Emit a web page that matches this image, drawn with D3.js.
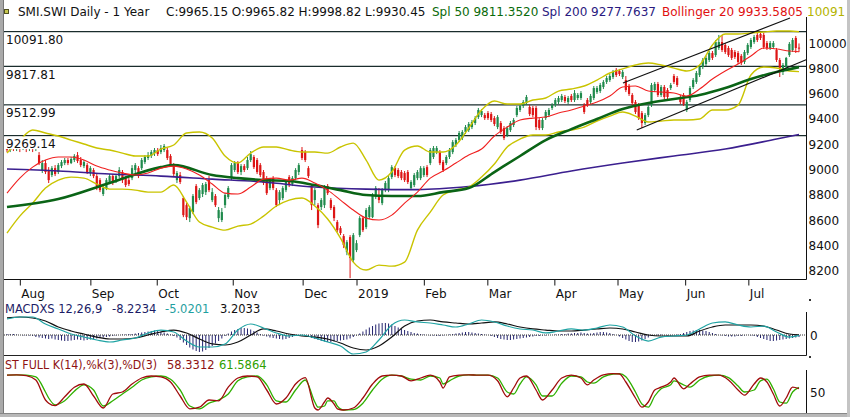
<!DOCTYPE html>
<html><head><meta charset="utf-8">
<script src="https://cdn.jsdelivr.net/npm/d3@7/dist/d3.min.js"></script>
<style>
html,body{margin:0;padding:0;background:#fff;}
svg{display:block;font-family:"DejaVu Sans",sans-serif;}
</style></head><body>
<svg id="c" width="850" height="417"></svg>
<script>
// ---------------- DATA ----------------
const open = [9195,9155,9187,9163,9195,9171,9203,9179,9195,9163,
9115,8997,9052,8997,8957,9012,8981,9028,9052,9076,
9052,9076,9115,9076,9028,9036,8973,8997,8949,8917,
8807,8854,8902,8949,8902,8949,8981,8933,8917,8933,
8997,9012,9012,9060,9092,9108,9131,9155,9139,9155,
9155,9108,9036,8917,8957,8775,8719,8616,8664,8870,
8775,8807,8822,8917,8759,8791,8616,8601,8719,8783,
8933,8997,9052,8981,9028,9012,9076,9100,9076,9036,
8981,8933,8854,8933,8838,8759,8775,8838,8941,8886,
8933,8981,9155,9139,9012,8870,8759,8719,8704,8719,
8870,8759,8704,8585,8537,8474,8347,8466,8284,8363,
8482,8616,8545,8624,8624,8783,8783,8735,8838,8838,
8941,9012,8997,8981,8973,8981,8854,8878,8933,8933,
8957,9020,9052,9100,9139,9139,9060,9052,9100,9139,
9195,9234,9250,9298,9313,9337,9369,9416,9432,9432,
9448,9440,9408,9337,9369,9329,9274,9313,9353,9432,
9472,9504,9527,9496,9488,9488,9393,9329,9408,9432,
9488,9511,9535,9551,9575,9535,9583,9551,9567,9567,
9511,9551,9535,9567,9614,9622,9654,9694,9709,9733,
9789,9781,9733,9709,9662,9591,9535,9511,9448,9369,
9432,9511,9630,9678,9591,9654,9630,9646,9741,9725,
9575,9591,9472,9551,9654,9694,9749,9812,9836,9868,
9923,9907,9963,10010,9987,9963,9947,9931,9923,9900,
9852,9923,9971,10010,10066,10074,10066,10002,9963,9971,
9947,9868,9773,9812,9907,9947,10042,9965.82];
const high = [9218,9210,9203,9210,9218,9226,9226,9218,9218,9203,
9139,9076,9076,9020,9028,9036,9052,9076,9092,9092,
9100,9123,9139,9100,9076,9052,9028,9012,8965,8933,
8870,8933,8965,8965,8965,9020,8997,8949,8933,9036,
9052,9028,9092,9115,9139,9155,9171,9171,9195,9203,
9171,9123,9052,8989,8981,8791,8735,8712,8807,8886,
8854,8894,8902,8949,8854,8807,8704,8696,8814,8870,
9052,9068,9068,9044,9044,9100,9147,9115,9092,9052,
8997,8949,8933,8949,8854,8838,8870,8917,8957,8949,
9012,9052,9179,9155,9028,8886,8854,8735,8775,8878,
8886,8775,8719,8601,8553,8490,8442,8482,8498,8442,
8632,8632,8696,8719,8814,8870,8854,8854,8910,8949,
9036,9028,9012,8997,8989,8997,8917,8973,8997,9028,
9028,9036,9171,9187,9187,9155,9076,9115,9171,9234,
9250,9306,9313,9353,9377,9393,9424,9488,9480,9448,
9464,9456,9424,9432,9385,9345,9345,9385,9408,9504,
9519,9551,9591,9511,9504,9504,9408,9408,9472,9488,
9527,9567,9583,9599,9591,9583,9599,9630,9606,9622,
9527,9567,9599,9662,9662,9686,9709,9741,9757,9789,
9804,9797,9789,9741,9678,9606,9551,9527,9464,9448,
9511,9686,9694,9694,9670,9670,9646,9686,9757,9741,
9591,9606,9551,9662,9725,9781,9828,9884,9900,9939,
9939,10026,10066,10066,10002,9979,9963,9947,9939,9915,
9947,10002,10042,10066,10090,10090,10082,10018,10018,10018,
9963,9884,9844,9892,10010,10042,10058,9998.82];
const low = [9139,9139,9147,9147,9139,9155,9139,9147,9139,9147,
9036,8973,8965,8894,8941,8949,8965,9012,9036,9036,
9044,9060,9052,9020,9012,8965,8949,8933,8838,8822,
8791,8838,8886,8878,8894,8933,8894,8862,8870,8917,
8973,8933,8997,9044,9076,9092,9108,9108,9123,9139,
9076,9028,8949,8894,8886,8624,8601,8585,8648,8727,
8759,8783,8799,8822,8743,8704,8585,8585,8696,8767,
8917,8981,8965,8957,8981,8997,9060,9005,8965,8941,
8878,8799,8838,8838,8704,8719,8759,8822,8862,8870,
8917,8957,9076,9060,8933,8680,8719,8537,8680,8696,
8799,8680,8593,8506,8482,8379,8323,8141,8268,8347,
8466,8506,8529,8609,8616,8767,8735,8719,8822,8822,
8925,8941,8933,8917,8902,8886,8838,8862,8917,8917,
8941,8941,9036,9084,9123,9036,8981,9036,9084,9123,
9179,9218,9234,9282,9298,9321,9353,9401,9416,9393,
9393,9377,9345,9321,9282,9234,9258,9298,9337,9416,
9456,9488,9511,9424,9416,9313,9313,9313,9393,9416,
9472,9496,9519,9535,9527,9519,9535,9535,9551,9551,
9440,9496,9519,9551,9599,9606,9638,9678,9694,9717,
9733,9741,9717,9614,9583,9511,9440,9393,9329,9353,
9416,9496,9614,9575,9575,9559,9559,9630,9678,9654,
9519,9504,9456,9535,9638,9678,9733,9796,9820,9852,
9868,9892,9947,9931,9915,9892,9868,9876,9836,9828,
9836,9907,9955,9995,10010,10026,9955,9947,9947,9955,
9852,9733,9749,9797,9892,9931,9923,9930.45];
const close = [9155,9187,9163,9195,9171,9203,9179,9195,9163,9179,
9052,9052,8981,8917,9012,8965,9036,9060,9076,9052,
9084,9108,9068,9036,9060,8981,9012,8949,8870,8838,
8854,8917,8949,8902,8949,8997,8917,8878,8886,9012,
9036,8949,9076,9100,9115,9139,9155,9123,9171,9187,
9092,9044,8965,8973,8902,8640,8624,8696,8791,8743,
8838,8878,8886,8838,8822,8719,8680,8664,8799,8854,
9036,9052,8981,9028,8997,9076,9123,9020,8981,8957,
8894,8814,8917,8854,8719,8822,8854,8902,8878,8933,
8997,9036,9092,9076,8949,8719,8838,8561,8759,8862,
8814,8696,8616,8521,8498,8403,8426,8300,8482,8418,
8616,8521,8680,8704,8799,8854,8759,8838,8894,8933,
9020,8957,8949,8933,8917,8902,8902,8957,8981,9012,
9012,8957,9155,9171,9171,9052,8997,9100,9155,9218,
9234,9290,9298,9337,9361,9377,9408,9472,9464,9408,
9408,9393,9361,9416,9298,9250,9329,9369,9393,9488,
9504,9535,9575,9440,9432,9337,9329,9393,9456,9472,
9511,9551,9567,9583,9543,9567,9551,9606,9591,9606,
9456,9511,9583,9646,9646,9670,9694,9725,9741,9773,
9749,9757,9773,9630,9599,9527,9456,9408,9369,9432,
9496,9670,9678,9591,9654,9575,9575,9670,9694,9670,
9535,9519,9535,9646,9709,9765,9812,9868,9884,9923,
9884,10010,10010,9947,9931,9907,9884,9892,9852,9844,
9931,9987,10026,10050,10026,10042,9971,9963,10002,10002,
9868,9804,9828,9884,9995,10026,9963,9965.15];

const sma200Idx = [0,16,32,48,64,80,96,112,128,144,160,176,192,208,224,240,247];
const sma200 = [9005,8989,8965,8949,8925,8902,8862,8846,8842,8866,8917,8989,9052,9108,9163,9242,9277.76];
const sma50Idx = [0,16,32,48,52,64,72,80,88,96,104,112,120,128,136,144,152,160,168,176,184,192,200,208,216,224,232,240,247];
const sma50 = [8704,8767,8894,9020,9036,8957,8933,8917,8910,8878,8838,8799,8791,8791,8822,8854,8981,9108,9234,9321,9401,9480,9527,9559,9591,9646,9717,9773,9811.35];

const bandIdx = [0,4,8,12,16,20,24,28,32,36,40,44,48,52,56,60,64,68,72,76,80,84,88,92,96,100,104,108,112,116,120,124,128,132,136,140,144,148,152,156,160,164,168,172,176,180,184,188,192,196,200,204,208,212,216,220,224,228,232,236,240,244,247];
const bbMid = [8814,8933,9020,9076,9100,9100,9076,9028,8997,8973,8957,8973,9012,9028,9005,8957,8886,8814,8807,8862,8925,8933,8917,8933,8894,8838,8759,8680,8616,8601,8640,8735,8822,8933,8989,9052,9115,9163,9266,9337,9393,9408,9416,9448,9472,9504,9535,9583,9654,9662,9622,9614,9606,9583,9638,9717,9781,9836,9900,9963,9955,9939,9933.58];
const bbUpper = [9131,9234,9314,9290,9266,9234,9203,9171,9155,9131,9108,9108,9163,9195,9290,9298,9250,9108,9052,9131,9179,9179,9155,9139,9139,9131,9179,9210,9076,8917,8981,9155,9187,9139,9139,9195,9329,9472,9543,9519,9519,9551,9567,9622,9638,9662,9709,9765,9797,9828,9844,9828,9804,9781,9828,9987,10074,10074,10082,10090,10097,10097,10091.8];
const bbLower = [8498,8632,8735,8854,8917,8941,8933,8886,8846,8846,8838,8822,8822,8878,8743,8585,8545,8521,8553,8569,8632,8712,8759,8775,8712,8609,8458,8268,8205,8244,8236,8268,8521,8664,8799,8838,8862,8941,9044,9179,9242,9274,9274,9298,9313,9337,9385,9424,9456,9424,9377,9385,9393,9393,9401,9472,9472,9511,9749,9812,9804,9781,9776];

const levels = [10091.80, 9817.81, 9512.99, 9269.14];
const levelLabels = ["10091.80","9817.81","9512.99","9269.14"];
const channelUpper = [[192.1,9686],[244.2,10200]];
const channelLower = [[196.4,9313],[249.4,9872]];

const macdLine = [196,221,221,135,74,12,-25,-61,-86,-61,-37,25,61,37,-74,-147,-147,-110,61,135,86,25,-12,0,-37,-86,-135,-233,-209,-61,123,184,160,147,123,98,135,184,160,110,74,61,25,49,74,61,86,123,98,-12,-74,-25,-12,0,74,147,160,123,98,110,37,-25,-5.0201];
const macdSignal = [209,221,209,172,98,49,12,-25,-49,-49,-37,0,37,61,25,-49,-110,-123,-86,0,74,49,12,-12,-25,-49,-98,-160,-184,-135,-25,110,172,184,160,147,135,147,160,135,98,74,61,49,49,61,74,86,74,37,0,-12,-12,-12,49,98,123,123,123,110,61,12,3.2033];
const macdHist = [4,4,4,2, 0,-2,-2,-2,-4, -8,-10,-12,-14,-16,-14, -18,-20,-22,-24,-24,-22,-20,-18,
-20,-22,-20,-18,-16,-14, -12,-10,-8,-6,-4,-2, 0,2,2,4,4,6, 8,10,12,14,16,18,16,14, 10,6,2,-4,-10,
-20,-30,-40,-50,-58,-64,-68,-66,-60, -52,-44,-34,-24,-14,-4, 6,14,20,24,28,28,26,22,16,10,
4,-2,-6,-10,-12,-14, -16,-18,-16,-12,-8,-4,-2,0, -4,-8,-12,-16,-20,-24,-26,-28,
-28,-26,-24,-22,-20,-18,-14, -8,-2,6,14,22,30, 36,42,46,48,48,46,42,36,30,
24,20,16,12,8,6,4,2, 0,-2,-2,-4,-4,-2,0,2,4,6, 8,10,12,12,10,8,6,4,2,0,
-4,-8,-12,-16,-18,-20,-20,-18, -16,-14,-12,-10,-8,-6,-4,-4,-2,-2,0,0,
2,2,4,4,6,6,8,8,10, 8,6,6,8,10,12,12,10,8, 4,0,-6,-12,-18,-24,
-28,-28,-26,-22,-16,-10, -4,0,2,2,0,-2,-2,0, 2,4,8,12,16,18,20,
20,18,16,12,8,4, 0,-2,-4,-6,-6,-6,-4,-4,-2, 0,-2,-4,-8,-12,-16,
-20,-24,-24,-22,-20,-18,-16, -14,-12,-10,-8.2234];

const stIdx = [0,3,6,9,12,13,15,18,21,24,27,30,33,36,39,42,45,48,51,54,57,60,63,66,69,72,75,78,81,84,87,90,93,96,97,99,100,102,103,105,108,111,114,117,120,123,126,129,132,135,136,138,141,144,147,150,153,156,158,160,162,165,167,170,173,176,179,181,183,186,189,191,193,196,198,200,202,204,207,208,211,213,216,219,222,225,228,230,233,235,237,239,241,243,245,247];
const stK = [92,93,91,80,30,22,16,38,62,70,40,10,45,50,70,85,90,88,75,40,8,12,30,28,62,85,90,88,55,20,35,70,86,10,5,25,35,20,8,5,10,35,70,90,92,90,78,85,92,75,60,88,92,93,92,92,78,38,60,85,90,55,30,55,85,92,85,68,80,93,96,95,75,35,12,25,55,62,75,85,58,70,88,92,92,80,55,42,70,85,75,45,15,35,62,58.3312];
const stD = [92,93,92,88,50,35,18,28,52,68,55,15,28,45,62,80,88,90,82,55,15,8,22,30,45,78,88,90,68,28,25,55,80,25,12,15,28,28,15,5,6,22,55,82,92,90,82,80,90,85,70,78,90,93,92,92,85,50,45,70,88,68,40,40,72,90,88,75,72,88,95,96,88,50,20,12,40,58,68,78,68,62,80,90,92,86,65,50,55,78,82,58,25,22,50,61.5864];

const monthTicks = [4,26,46.7,70.4,92.2,109,130,149.8,170.7,190.4,211.5,231.2];
const monthLabels = ["Aug","Sep","Oct","Nov","Dec","2019","Feb","Mar","Apr","May","Jun","Jul"];
const priceTicks = [8200,8400,8600,8800,9000,9200,9400,9600,9800,10000];

// ---------------- DRAW ----------------
const svg = d3.select('#c');
const L = 4, R = 806.5;
const x = d3.scaleLinear().domain([0, close.length-1]).range([7, 799]);
const y = d3.scaleLinear().domain([8200, 10000]).range([270.7, 43.3]);
const yM = d3.scaleLinear().domain([-270, 270]).range([357, 313]);
const yH = d3.scaleLinear().domain([-88, 88]).range([357, 313]);
const yS = d3.scaleLinear().domain([0, 100]).range([412, 372]);
const UP = '#1f8a4c', DN = '#dd1515';

svg.append('rect').attr('width',850).attr('height',417).attr('fill','#fff');
const defs = svg.append('defs');
defs.append('clipPath').attr('id','clipMain').append('rect')
  .attr('x',L).attr('y',16).attr('width',R-L).attr('height',263);

// level lines
svg.append('g').selectAll('line').data(levels).join('line')
  .attr('x1',L).attr('x2',R).attr('y1',d=>y(d)).attr('y2',d=>y(d))
  .attr('stroke','#1a2c2c').attr('stroke-width',1.3);

const gMain = svg.append('g').attr('clip-path','url(#clipMain)');
const idx = d3.range(close.length);
gMain.append('g').selectAll('line').data(idx).join('line')
  .attr('x1',i=>x(i)).attr('x2',i=>x(i))
  .attr('y1',i=>y(high[i])).attr('y2',i=>y(low[i]))
  .attr('stroke',i=>close[i]>=open[i]?UP:DN).attr('stroke-width',1);
gMain.append('g').selectAll('rect').data(idx).join('rect')
  .attr('x',i=>x(i)-1.1).attr('width',2.2)
  .attr('y',i=>y(Math.max(open[i],close[i])))
  .attr('height',i=>Math.max(1,Math.abs(y(open[i])-y(close[i]))))
  .attr('fill',i=>close[i]>=open[i]?UP:DN);

// label backgrounds (hide candles under labels)
const labW = [58,50,50,50];
svg.append('g').selectAll('rect').data(levels).join('rect')
  .attr('x',5).attr('y',d=>y(d)+1).attr('width',(d,i)=>labW[i]).attr('height',12.5)
  .attr('fill','#fff');

const line = (sx, sy) => d3.line().x(d=>sx(d[0])).y(d=>sy(d[1])).curve(d3.curveMonotoneX);
const zip = (a,b) => a.map((v,i)=>[v,b[i]]);

gMain.append('path').datum(zip(sma200Idx,sma200)).attr('d',line(x,y))
  .attr('fill','none').attr('stroke','#3b1f8f').attr('stroke-width',1.6);
gMain.append('path').datum(zip(bandIdx,bbUpper)).attr('d',line(x,y))
  .attr('fill','none').attr('stroke','#c9c400').attr('stroke-width',1.4);
gMain.append('path').datum(zip(bandIdx,bbLower)).attr('d',line(x,y))
  .attr('fill','none').attr('stroke','#c9c400').attr('stroke-width',1.4);
gMain.append('path').datum(zip(sma50Idx,sma50)).attr('d',line(x,y))
  .attr('fill','none').attr('stroke','#0a6416').attr('stroke-width',2.6);
gMain.append('path').datum(zip(bandIdx,bbMid)).attr('d',line(x,y))
  .attr('fill','none').attr('stroke','#f02020').attr('stroke-width',1.1);
[channelUpper, channelLower].forEach(c=>{
  gMain.append('line').attr('x1',x(c[0][0])).attr('y1',y(c[0][1]))
    .attr('x2',x(c[1][0])).attr('y2',y(c[1][1]))
    .attr('stroke','#111').attr('stroke-width',1.1);
});

// level label text
svg.append('g').selectAll('text').data(levels).join('text')
  .attr('x',6).attr('y',d=>y(d)+12.5).attr('font-size',12).attr('fill','#111')
  .text((d,i)=>levelLabels[i]);

// right price axis
const ax = svg.append('g').attr('transform',`translate(${R},0)`)
  .call(d3.axisRight(y).tickValues(priceTicks).tickSize(0).tickPadding(2).tickFormat(d3.format('d')));
ax.select('.domain').remove();
ax.selectAll('text').attr('font-size',12).attr('font-family','DejaVu Sans').attr('fill','#111');
svg.append('line').attr('x1',R).attr('x2',R).attr('y1',17).attr('y2',279.5).attr('stroke','#111');

// bottom axis
const bx = svg.append('g').attr('transform','translate(0,279.5)')
  .call(d3.axisBottom(x).tickValues(monthTicks).tickSize(6).tickFormat((d,i)=>monthLabels[i]));
bx.select('.domain').remove();
bx.selectAll('line').attr('stroke','#111');
bx.selectAll('text').attr('text-anchor','start').attr('x',1).attr('y',9.5)
  .attr('font-size',12).attr('font-family','DejaVu Sans').attr('fill','#111');
svg.append('line').attr('x1',L).attr('x2',R).attr('y1',279.5).attr('y2',279.5).attr('stroke','#111');

// MACD panel
svg.append('g').selectAll('line').data(idx).join('line')
  .attr('x1',i=>x(i)).attr('x2',i=>x(i)).attr('y1',yH(0)).attr('y2',i=>yH(macdHist[i]))
  .attr('stroke','#23236e').attr('stroke-width',1);
svg.append('line').attr('x1',L).attr('x2',R).attr('y1',yM(0)).attr('y2',yM(0))
  .attr('stroke','#333').attr('stroke-dasharray','1,1');
svg.append('path').datum(zip(bandIdx,macdSignal)).attr('d',line(x,yM))
  .attr('fill','none').attr('stroke','#111').attr('stroke-width',1.2);
svg.append('path').datum(zip(bandIdx,macdLine)).attr('d',line(x,yM))
  .attr('fill','none').attr('stroke','#1fa3a3').attr('stroke-width',1.2);
svg.append('line').attr('x1',L).attr('x2',R).attr('y1',355.5).attr('y2',355.5).attr('stroke','#222');
svg.append('line').attr('x1',R).attr('x2',R).attr('y1',312).attr('y2',355.5).attr('stroke','#111');
svg.append('rect').attr('x',809).attr('y',299).attr('width',2).attr('height',2).attr('fill','#333');
svg.append('rect').attr('x',809).attr('y',356).attr('width',2).attr('height',2).attr('fill','#333');
svg.append('text').attr('x',810).attr('y',yM(0)+4.5).attr('font-size',12).attr('fill','#111').text('0');

const mt = svg.append('text').attr('y',312.5).attr('font-size',11.5);
mt.append('tspan').attr('x',5).attr('fill','#1c1c66').text('MACDXS 12,26,9');
mt.append('tspan').attr('x',112).attr('fill','#1c1c66').text('-8.2234');
mt.append('tspan').attr('x',165).attr('fill','#1fa0a0').text('-5.0201');
mt.append('tspan').attr('x',220).attr('fill','#111').text('3.2033');

// Stochastic panel
svg.append('path').datum(zip(stIdx,stD)).attr('d',line(x,yS))
  .attr('fill','none').attr('stroke','#2fb000').attr('stroke-width',1.3);
svg.append('path').datum(zip(stIdx,stK)).attr('d',line(x,yS))
  .attr('fill','none').attr('stroke','#a00c0c').attr('stroke-width',1.3);
svg.append('line').attr('x1',R).attr('x2',R).attr('y1',370).attr('y2',413).attr('stroke','#111');
svg.append('text').attr('x',810).attr('y',yS(50)+4.5).attr('font-size',12).attr('fill','#111').text('50');
const st = svg.append('text').attr('y',369).attr('font-size',11.5);
st.append('tspan').attr('x',5).attr('fill','#8e1212').attr('textLength',152).attr('lengthAdjust','spacingAndGlyphs').text('ST FULL K(14),%k(3),%D(3)');
st.append('tspan').attr('x',167).attr('fill','#8e1212').text('58.3312');
st.append('tspan').attr('x',219).attr('fill','#2ea000').text('61.5864');

// title
svg.append('rect').attr('x',4.5).attr('y',9.5).attr('width',4).attr('height',4)
  .attr('fill','#c8c850').attr('stroke','#505020').attr('stroke-width',1);
const tt = svg.append('text').attr('y',16).attr('font-size',12);
tt.append('tspan').attr('x',18).attr('fill','#111').text('SMI.SWI Daily -  1 Year');
tt.append('tspan').attr('x',166).attr('fill','#111').text('C:9965.15 O:9965.82 H:9998.82 L:9930.45');
tt.append('tspan').attr('x',432).attr('fill','#0a6a0a').text('Spl 50 9811.3520');
tt.append('tspan').attr('x',542).attr('fill','#2a1a80').text('Spl 200 9277.7637');
tt.append('tspan').attr('x',662).attr('fill','#e01010').text('Bollinger 20 9933.5805');
tt.append('tspan').attr('x',807).attr('fill','#b4b400').text('10091');

// frame
svg.append('rect').attr('x',0).attr('y',0).attr('width',3).attr('height',417).attr('fill','#a9a9a9');
svg.append('line').attr('x1',3.5).attr('x2',3.5).attr('y1',0).attr('y2',417).attr('stroke','#777');
svg.append('rect').attr('x',0).attr('y',413).attr('width',850).attr('height',4).attr('fill','#b8b8b8');
svg.append('line').attr('x1',0).attr('x2',850).attr('y1',413.5).attr('y2',413.5).attr('stroke','#888');
svg.append('rect').attr('x',847).attr('y',0).attr('width',3).attr('height',417).attr('fill','#c4c4c4');
</script>
</body></html>
